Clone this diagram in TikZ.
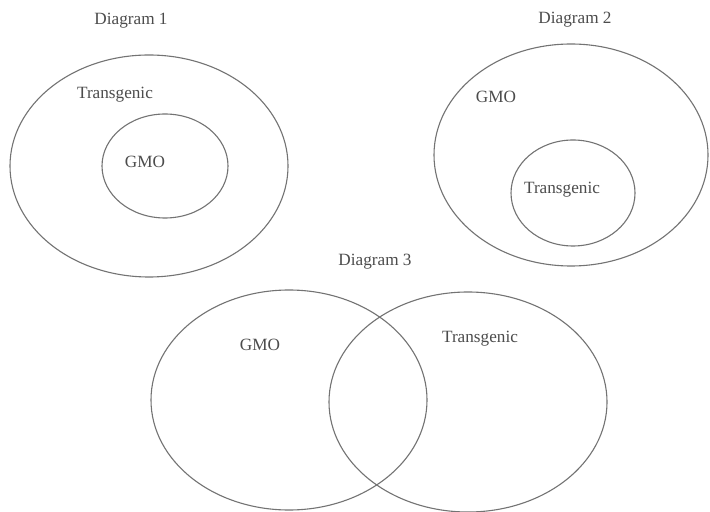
\documentclass[tikz,border=0pt]{standalone}
\usepackage{fontspec}
\setmainfont{Liberation Serif}
\begin{document}
\begin{tikzpicture}[x=0.5pt,y=-0.5pt,
  ring/.style={draw=black!55,line width=0.55pt},
  lbl/.style={text=black!70,font=\fontsize{8.6}{10}\selectfont,inner sep=0pt}]
\useasboundingbox[fill=white] (0,0) rectangle (710,512);
% Diagram 1
\node[lbl] (t1) at (131,21) {Diagram 1};
\draw[ring] (149,166) ellipse [x radius=139, y radius=111];
\draw[ring] (165,166) ellipse [x radius=63, y radius=52];
\node[lbl] (a1) at (115,95) {Transgenic};
\node[lbl] (b1) at (145,162) {GMO};
% Diagram 2
\node[lbl] (t2) at (575,20) {Diagram 2};
\draw[ring] (571,155) ellipse [x radius=137, y radius=111];
\draw[ring] (573,193) ellipse [x radius=62, y radius=53];
\node[lbl] (a2) at (496,97) {GMO};
\node[lbl] (b2) at (562,190) {Transgenic};
% Diagram 3
\node[lbl] (t3) at (375,262) {Diagram 3};
\draw[ring] (289,400) ellipse [x radius=138, y radius=110];
\draw[ring] (468,402) ellipse [x radius=139, y radius=110];
\node[lbl] (a3) at (260,345) {GMO};
\node[lbl] (b3) at (480,339) {Transgenic};
\end{tikzpicture}
\end{document}
